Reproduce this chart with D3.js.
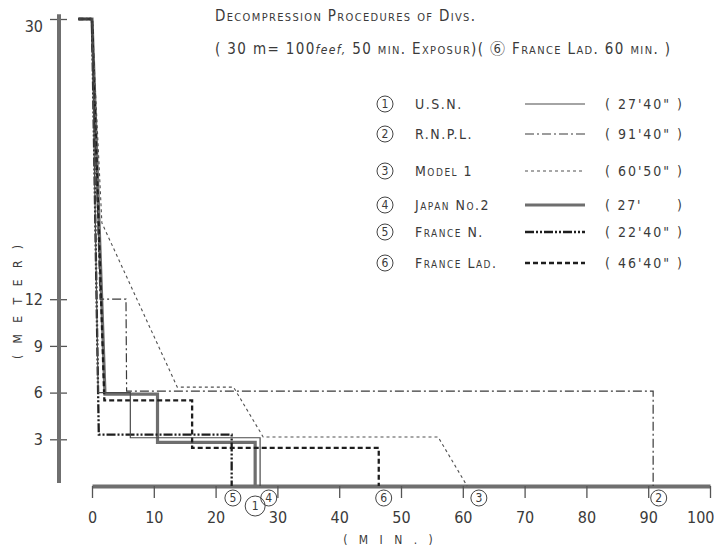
<!DOCTYPE html>
<html>
<head>
<meta charset="utf-8">
<script src="https://cdn.jsdelivr.net/npm/d3@7"></script>
<style>
body { margin: 0; background: #fff; }
svg text { font-family: "Liberation Sans Narrow", "DejaVu Sans Condensed", sans-serif; fill: #3a3a3a; }
</style>
</head>
<body>
<svg id="chart" width="714" height="549"></svg>
<script>
// tick values
var timeTicks = [0, 10, 20, 30, 40, 50, 60, 70, 80, 90, 100];
var depthTicks = [3, 6, 9, 12, 30];

// legend
var names = ["U.S.N.", "R.N.P.L.", "Model 1", "Japan No.2", "France N.", "France Lad."];
var totals = ["( 27'40\" )", "( 91'40\" )", "( 60'50\" )", "( 27'      )", "( 22'40\" )", "( 46'40\" )"];

// profiles: [minutes, metres]
var usn       = [[-2.2, 30], [0, 30], [1.0, 6.0], [6.2, 6.0], [6.2, 3.1], [27.2, 3.1], [27.2, 0]];
var rnpl      = [[-2.2, 30], [0, 30], [1.3, 12], [5.5, 12], [5.6, 6.1], [90.8, 6.1], [90.8, 0]];
var model1    = [[-2.2, 30], [0, 30], [1.6, 16.9], [13.8, 6.35], [22.9, 6.35], [27.7, 3.15], [56.0, 3.15], [60.7, 0]];
var japan     = [[-2.2, 30], [0, 30], [2.1, 5.9], [10.6, 5.9], [10.6, 2.8], [26.4, 2.8], [26.4, 0]];
var franceN   = [[-2.2, 30], [0, 30], [1.1, 3.3], [22.6, 3.3], [22.6, 0]];
var franceLad = [[-2.2, 30], [0, 30], [2.0, 5.5], [16.2, 5.5], [16.2, 2.45], [46.4, 2.45], [46.4, 0]];

// circled numbers under the time axis
var endNums  = [5, 1, 4, 6, 3, 2];
var endTimes = [22.8, 26.4, 28.6, 47.2, 62.6, 91.7];

var profiles = [usn, rnpl, model1, japan, franceN, franceLad];
var styles = [
  {w: 1.2, c: "#4a4a4a", d: null},
  {w: 1.2, c: "#3a3a3a", d: "9,3,2,3"},
  {w: 1.1, c: "#505050", d: "3,3"},
  {w: 3.2, c: "#6e6e6e", d: null},
  {w: 2.3, c: "#1e1e1e", d: "9,2,2,2,2,2"},
  {w: 2.3, c: "#1e1e1e", d: "5,3"}
];

var svg = d3.select("#chart");

var x = d3.scaleLinear().domain([0, 100]).range([92, 710]);
var y = d3.scaleLinear().domain([0, 30]).range([486, 19]);

// x axis
var xAxis = d3.axisBottom(x).tickValues(timeTicks).tickSize(12).tickSizeOuter(0).tickPadding(14);
var gx = svg.append("g")
    .attr("transform", "translate(0," + y(0) + ")")
    .call(xAxis)
    .attr("font-size", 16)
    .attr("font-family", null);
gx.select(".domain").attr("stroke", "#6f6f6f").attr("stroke-width", 4);
gx.selectAll(".tick line").attr("stroke", "#555").attr("stroke-width", 1.3);
// last label sits against the right edge
gx.selectAll(".tick text").filter(function(d) { return d === 100; })
    .attr("text-anchor", "end").attr("x", 4);

// y axis
var yAxis = d3.axisLeft(y).tickValues(depthTicks).tickSize(9).tickPadding(7);
var gy = svg.append("g")
    .attr("transform", "translate(59,0)")
    .call(yAxis)
    .attr("font-size", 16)
    .attr("font-family", null);
gy.select(".domain").remove();
gy.selectAll(".tick line").attr("x1", 8).attr("stroke", "#555").attr("stroke-width", 1.3);
gy.selectAll(".tick text").filter(function(d) { return d === 30; }).attr("dy", "0.8em");
gy.append("line")
    .attr("y1", y(30.3)).attr("y2", y(0.2))
    .attr("stroke", "#6f6f6f").attr("stroke-width", 4);

// profiles, thick first so thin ones stay visible
var line = d3.line().x(function(d) { return x(d[0]); }).y(function(d) { return y(d[1]); });
[3, 5, 4, 2, 1, 0].forEach(function(i) {
  svg.append("path")
    .attr("d", line(profiles[i]))
    .attr("fill", "none")
    .attr("stroke", styles[i].c)
    .attr("stroke-width", styles[i].w)
    .attr("stroke-dasharray", styles[i].d);
});

// circled numbers at the end of each profile
endNums.forEach(function(n, i) {
  var cx = x(endTimes[i]), cy = n === 1 ? 506 : 498;
  var r = n === 1 ? 10 : 8;
  svg.append("circle").attr("cx", cx).attr("cy", cy).attr("r", r)
    .attr("fill", "none").attr("stroke", "#444").attr("stroke-width", 1);
  svg.append("text").attr("x", cx).attr("y", cy).attr("dy", "0.36em")
    .attr("text-anchor", "middle").attr("font-size", 12).text(n);
});

// legend
var rowY = [104, 134, 171, 205, 232, 263];
names.forEach(function(name, i) {
  var ry = rowY[i];
  svg.append("circle").attr("cx", 385).attr("cy", ry).attr("r", 8)
    .attr("fill", "none").attr("stroke", "#444").attr("stroke-width", 1);
  svg.append("text").attr("x", 385).attr("y", ry).attr("dy", "0.36em")
    .attr("text-anchor", "middle").attr("font-size", 12).text(i + 1);
  svg.append("text").attr("x", 415).attr("y", ry).attr("dy", "0.36em")
    .attr("font-size", 14).style("font-variant", "small-caps")
    .attr("letter-spacing", 1.5).text(name);
  svg.append("line").attr("x1", 525).attr("x2", 585).attr("y1", ry).attr("y2", ry)
    .attr("stroke", styles[i].c).attr("stroke-width", styles[i].w)
    .attr("stroke-dasharray", styles[i].d);
  svg.append("text").attr("x", 605).attr("y", ry).attr("dy", "0.36em")
    .attr("font-size", 14).style("white-space", "pre")
    .attr("textLength", 77).attr("lengthAdjust", "spacing").text(totals[i]);
});

// titles
svg.append("text").attr("x", 215).attr("y", 21)
  .attr("font-size", 15).style("font-variant", "small-caps")
  .attr("textLength", 260).attr("lengthAdjust", "spacing")
  .text("Decompression Procedures of Divs.");

var t2 = svg.append("text").attr("x", 215).attr("y", 54).attr("font-size", 15)
  .attr("textLength", 455).attr("lengthAdjust", "spacing");
t2.append("tspan").text("( 30 m= 100");
t2.append("tspan").attr("font-style", "italic").attr("font-size", 12).text("feef,");
t2.append("tspan").text(" 50 ");
t2.append("tspan").style("font-variant", "small-caps").text("min. Exposur");
t2.append("tspan").text(")( ");
t2.append("tspan").style("font-family", "'Noto Sans CJK JP'").attr("font-size", 15).text("\u2465");
t2.append("tspan").style("font-variant", "small-caps").text(" France Lad. 60 min. )");

// axis titles
svg.append("text").attr("x", 390).attr("y", 540).attr("dy", "0.35em")
  .attr("text-anchor", "middle").attr("font-size", 12).attr("letter-spacing", 4)
  .text("( M I N . )");
svg.append("text").attr("transform", "translate(18,300) rotate(-90)").attr("dy", "0.35em")
  .attr("text-anchor", "middle").attr("font-size", 12).attr("letter-spacing", 4)
  .text("( M E T E R )");
</script>
</body>
</html>
